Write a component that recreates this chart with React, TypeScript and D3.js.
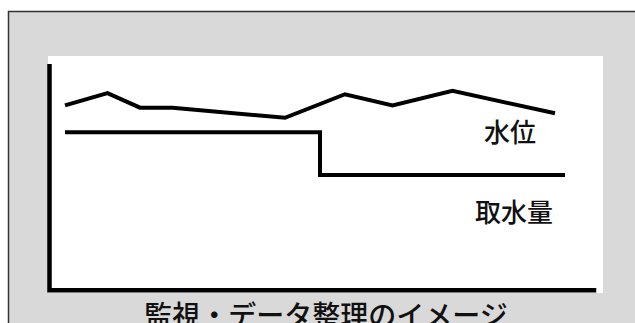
import React from "react";
import { scaleLinear, line, curveLinear, curveStepAfter } from "d3";

// time positions (arbitrary units) and values
const levelTimes = [0, 1.7, 3, 4.3, 8.8, 11.2, 13.1, 15.5, 19.6];
const levelValues = [81.5, 87, 80.5, 80.5, 76, 86.5, 81.5, 88, 78];

const intakeTimes = [0, 10.2, 20];
const intakeValues = [69.5, 50.5, 50.5];

const seriesLabels = ["水位", "取水量"];
const title = "監視・データ整理のイメージ";

const W = 635;
const H = 323;
const font = "'Noto Sans CJK JP', 'Noto Sans', sans-serif";

export default function App() {
  const x = scaleLinear().domain([0, 20]).range([65, 565]);
  const y = scaleLinear().domain([0, 100]).range([288, 64]);

  const lineGen = line<[number, number]>()
    .x((d) => x(d[0]))
    .y((d) => y(d[1]))
    .curve(curveLinear);
  const stepGen = line<[number, number]>()
    .x((d) => x(d[0]))
    .y((d) => y(d[1]))
    .curve(curveStepAfter);

  const level = levelTimes.map((t, i) => [t, levelValues[i]] as [number, number]);
  const intake = intakeTimes.map((t, i) => [t, intakeValues[i]] as [number, number]);

  return (
    <svg
      width={W}
      height={H}
      style={{ position: "absolute", left: 0, top: 0, display: "block" }}
    >
      {/* gray card with border */}
      <rect x={0} y={0} width={W} height={H} fill="#ffffff" />
      <rect x={8.5} y={11.5} width={W} height={H} fill="#d9d9d9" stroke="#333" strokeWidth={1.5} />
      {/* white plot panel */}
      <rect x={48} y={56} width={555} height={237} fill="#ffffff" />

      {/* series */}
      <path d={lineGen(level) ?? ""} fill="none" stroke="#000" strokeWidth={4} strokeLinejoin="miter" />
      <path d={stepGen(intake) ?? ""} fill="none" stroke="#000" strokeWidth={4} strokeLinejoin="miter" />

      {/* axes */}
      <path
        d={`M${x(-0.62)},${y(100)} V${y(-1)} H${x(21.25)}`}
        fill="none"
        stroke="#000"
        strokeWidth={4.5}
      />

      {/* series labels */}
      <text x={510} y={142} textAnchor="middle" fontFamily={font} fontWeight={500} fontSize={26} fill="#111">
        {seriesLabels[0]}
      </text>
      <text x={514} y={222} textAnchor="middle" fontFamily={font} fontWeight={500} fontSize={26} fill="#111">
        {seriesLabels[1]}
      </text>

      {/* caption */}
      <text x={326} y={326} textAnchor="middle" fontFamily={font} fontWeight={500} fontSize={28} fill="#111">
        {title}
      </text>
    </svg>
  );
}
